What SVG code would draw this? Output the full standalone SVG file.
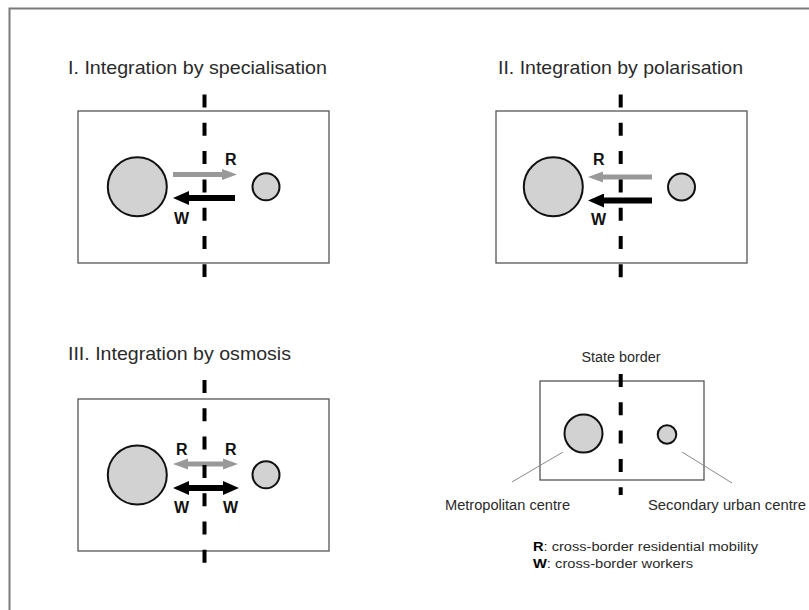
<svg xmlns="http://www.w3.org/2000/svg" width="809" height="610" viewBox="0 0 809 610">
<style>
.frame{fill:none;stroke:#7a7a7a;stroke-width:2}
.panel{fill:#fff;stroke:#555;stroke-width:1.3}
.city{fill:#d2d2d2;stroke:#111;stroke-width:2}
.border{fill:none;stroke:#000;stroke-width:4;stroke-dasharray:13 15.3}
.title{font-family:"Liberation Sans",Arial,sans-serif;font-size:18.5px;fill:#2a2a2a}
.lbl{font-family:"Liberation Sans",Arial,sans-serif;font-size:16px;font-weight:bold;fill:#111}
.leg{font-family:"Liberation Sans",Arial,sans-serif;font-size:14px;fill:#2a2a2a}
.key{font-family:"Liberation Sans",Arial,sans-serif;font-size:13px;fill:#2a2a2a}
.rflow{stroke:#999;stroke-width:5;fill:none}
.wflow{stroke:#000;stroke-width:6;fill:none}
.leader{stroke:#8a8a8a;stroke-width:1;fill:none}
</style>
<defs>
<marker id="hg" markerUnits="userSpaceOnUse" markerWidth="16" markerHeight="12" refX="3" refY="6" orient="auto-start-reverse">
<path d="M0,0.5 L15,6 L0,11.5 z" fill="#999"/>
</marker>
<marker id="hb" markerUnits="userSpaceOnUse" markerWidth="17" markerHeight="14" refX="3" refY="7" orient="auto-start-reverse">
<path d="M0,0 L16,7 L0,14 z" fill="#000"/>
</marker>
</defs>
<rect width="809" height="610" fill="#fff"/>
<path class="frame" d="M9.5,610 L9.5,8.5 L809,8.5"/>

<g id="panel-1">
<text class="title" x="68" y="74" textLength="259" lengthAdjust="spacingAndGlyphs">I. Integration by specialisation</text>
<rect class="panel" x="78" y="111" width="251" height="152"/>
<circle class="city" cx="137.3" cy="186.8" r="29.5"/>
<circle class="city" cx="266" cy="186.8" r="13.5"/>
</g>
<g id="panel-2">
<text class="title" x="498" y="73.5" textLength="245" lengthAdjust="spacingAndGlyphs">II. Integration by polarisation</text>
<rect class="panel" x="496" y="111" width="251" height="152"/>
<circle class="city" cx="553.3" cy="186.8" r="29.5"/>
<circle class="city" cx="681.5" cy="187" r="13.5"/>
</g>
<g id="panel-3">
<text class="title" x="68" y="360" textLength="223" lengthAdjust="spacingAndGlyphs">III. Integration by osmosis</text>
<rect class="panel" x="78" y="399" width="251" height="152"/>
<circle class="city" cx="137.3" cy="475" r="29.5"/>
<circle class="city" cx="266" cy="474.8" r="13.5"/>
</g>
<g id="legend">
<rect class="panel" x="540" y="381" width="164" height="99"/>
<circle class="city" cx="583.5" cy="433.5" r="19"/>
<circle class="city" cx="667" cy="434.5" r="9.3"/>
<line class="leader" x1="563" y1="452" x2="512" y2="482"/>
<line class="leader" x1="682" y1="452" x2="732" y2="483"/>
<text class="leg" x="581.5" y="362" textLength="79" lengthAdjust="spacingAndGlyphs">State border</text>
<text class="leg" x="445" y="510" textLength="125" lengthAdjust="spacingAndGlyphs">Metropolitan centre</text>
<text class="leg" x="648" y="510" textLength="158" lengthAdjust="spacingAndGlyphs">Secondary urban centre</text>
<text class="key" x="533" y="551" textLength="225" lengthAdjust="spacingAndGlyphs"><tspan font-weight="bold" fill="#000">R</tspan>: cross-border residential mobility</text>
<text class="key" x="533" y="567.5" textLength="160" lengthAdjust="spacingAndGlyphs"><tspan font-weight="bold" fill="#000">W</tspan>: cross-border workers</text>
</g>

<g id="connectors">
<line class="rflow" x1="173" y1="174.5" x2="225" y2="174.5" marker-end="url(#hg)"/>
<line class="wflow" x1="235" y1="198" x2="186" y2="198" marker-end="url(#hb)"/>
<line class="rflow" x1="652" y1="177" x2="600" y2="177" marker-end="url(#hg)"/>
<line class="wflow" x1="652" y1="200.5" x2="601" y2="200.5" marker-end="url(#hb)"/>
<line class="rflow" x1="185" y1="464" x2="226" y2="464" marker-start="url(#hg)" marker-end="url(#hg)"/>
<line class="wflow" x1="186" y1="488" x2="226" y2="488" marker-start="url(#hb)" marker-end="url(#hb)"/>
</g>

<g id="borders">
<line class="border" x1="204.5" y1="94.5" x2="204.5" y2="277"/>
<line class="border" x1="620.7" y1="94.5" x2="620.7" y2="279"/>
<line class="border" x1="204.5" y1="380" x2="204.5" y2="566"/>
<line class="border" x1="620.7" y1="374" x2="620.7" y2="495"/>
</g>

<g id="flow-labels">
<text class="lbl" x="225" y="165">R</text>
<text class="lbl" x="174" y="223.5">W</text>
<text class="lbl" x="593" y="164.5">R</text>
<text class="lbl" x="591" y="224.5">W</text>
<text class="lbl" x="176" y="454.5">R</text>
<text class="lbl" x="225" y="454.5">R</text>
<text class="lbl" x="174" y="512.5">W</text>
<text class="lbl" x="223" y="512.5">W</text>
</g>
</svg>
